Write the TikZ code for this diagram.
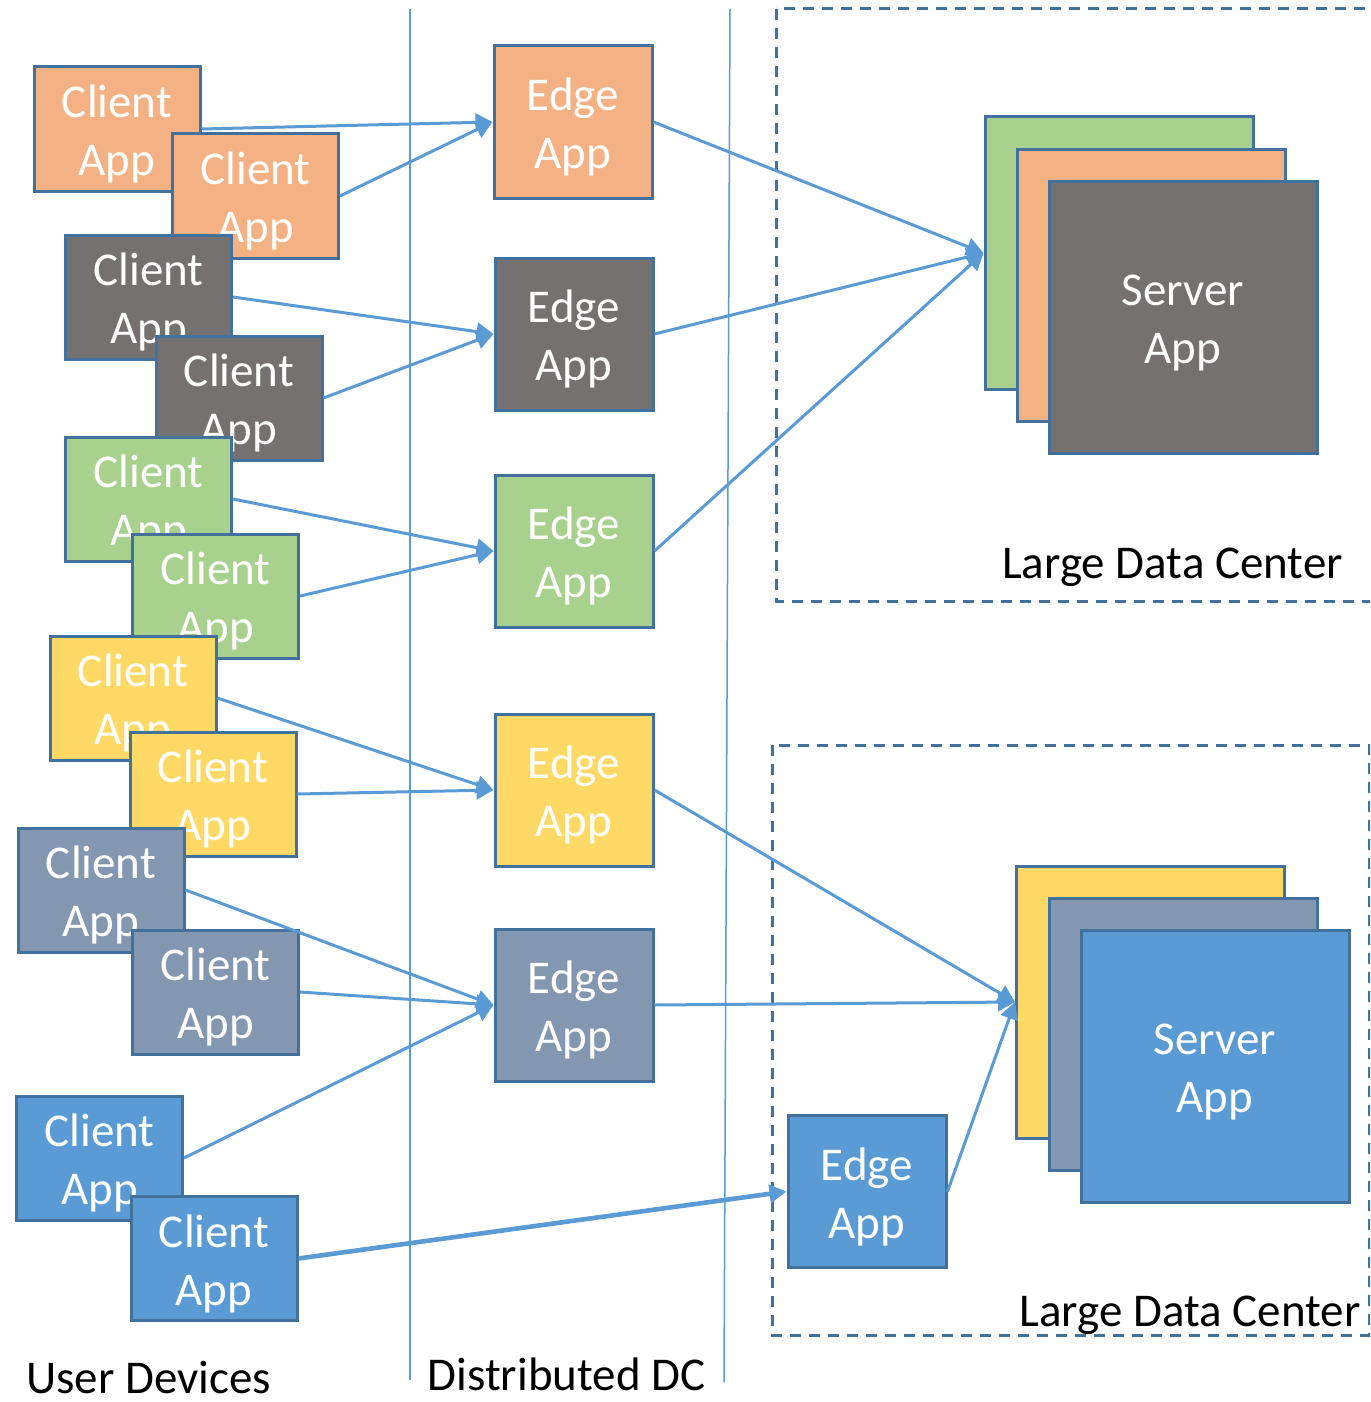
\documentclass[tikz,border=0pt]{standalone}
\usepackage{fontspec}
\setmainfont{Carlito}
\usetikzlibrary{arrows.meta}
\definecolor{corange}{HTML}{F4B183}
\definecolor{cdark}{HTML}{767171}
\definecolor{cgreen}{HTML}{A9D18E}
\definecolor{cyellow}{HTML}{FFD966}
\definecolor{cslate}{HTML}{8497B0}
\definecolor{cblue}{HTML}{5B9BD5}
\definecolor{cborder}{HTML}{41719C}
\definecolor{clink}{HTML}{5B9BD5}
\newcommand{\twolines}[2]{\begin{tabular}{@{}c@{}}#1\\#2\end{tabular}}
\tikzset{
  appbox/.style={draw=cborder, line width=1.5pt, text=white,
    font=\fontsize{23.5pt}{29pt}\selectfont, text height=21pt, text depth=2.3pt, inner sep=0pt},
  client/.style={appbox, minimum width=83pt, minimum height=62pt},
  edgebox/.style={appbox, minimum width=79pt, minimum height=76pt},
  server/.style={appbox, minimum width=134pt, minimum height=136pt},
  link/.style={draw=clink, line width=1.5pt, -{Triangle[length=8.5pt,width=9pt]}},
  thicklink/.style={link, line width=2.3pt},
  divider/.style={draw=clink, line width=0.75pt},
  dcbox/.style={draw=cborder, line width=1.5pt, dash pattern=on 5.5pt off 4pt},
  caption/.style={font=\fontsize{23.5pt}{29pt}\selectfont, text=black, anchor=base, inner sep=0pt}
}
\begin{document}
\begin{tikzpicture}[x=0.5pt, y=-0.5pt]
\clip (0,0) rectangle (1370,1402);
\fill[white] (0,0) rectangle (1370,1402);

% dividers
\coordinate (d1t) at (410,9);
\coordinate (d1b) at (410,1380);
\coordinate (d2t) at (730,9);
\coordinate (d2b) at (724,1382);
\draw[divider] (d1t) -- (d1b);
\draw[divider] (d2t) -- (d2b);

% data center frames
\draw[dcbox] (776,9) rectangle (1400,601);
\draw[dcbox] (772,745) rectangle (1369,1335);

% client apps
\node[client, fill=corange] (c1) at (117,129) {\twolines{Client}{App}};
\node[client, fill=corange] (c2) at (255.5,196) {\twolines{Client}{App}};
\node[client, fill=cdark] (c3) at (148.5,297) {\twolines{Client}{App}};
\node[client, fill=cdark] (c4) at (239,398) {\twolines{Client}{App}};
\node[client, fill=cgreen] (c5) at (148.5,499) {\twolines{Client}{App}};
\node[client, fill=cgreen] (c6) at (215.5,596) {\twolines{Client}{App}};
\node[client, fill=cyellow] (c7) at (133,698) {\twolines{Client}{App}};
\node[client, fill=cyellow] (c8) at (213,794) {\twolines{Client}{App}};
\node[client, fill=cslate] (c9) at (101,890) {\twolines{Client}{App}};
\node[client, fill=cslate] (c10) at (215.5,992) {\twolines{Client}{App}};
\node[client, fill=cblue] (c11) at (99.5,1158) {\twolines{Client}{App}};
\node[client, fill=cblue] (c12) at (214,1258.5) {\twolines{Client}{App}};

% edge apps
\node[edgebox, fill=corange] (e1) at (573,122) {\twolines{Edge}{App}};
\node[edgebox, fill=cdark] (e2) at (574,334) {\twolines{Edge}{App}};
\node[edgebox, fill=cgreen] (e3) at (574,551) {\twolines{Edge}{App}};
\node[edgebox, fill=cyellow] (e4) at (574,790) {\twolines{Edge}{App}};
\node[edgebox, fill=cslate] (e5) at (574,1005) {\twolines{Edge}{App}};
\node[edgebox, fill=cblue] (e6) at (867,1191.5) {\twolines{Edge}{App}};

% server stacks
\node[server, fill=cgreen] (s1) at (1119,253) {};
\node[server, fill=corange] (s2) at (1151,285) {};
\node[server, fill=cdark] (s3) at (1183,317) {\twolines{Server}{App}};
\node[server, fill=cyellow] (s4) at (1150.5,1002) {};
\node[server, fill=cslate] (s5) at (1183,1034) {};
\node[server, fill=cblue] (s6) at (1215,1066) {\twolines{Server}{App}};

% links client -> edge
\draw[link] (c1.east) -- (e1.west);
\draw[link] (c2.east) -- (e1.west);
\draw[link] (c3.east) -- (e2.west);
\draw[link] (c4.east) -- (e2.west);
\draw[link] (c5.east) -- (e3.west);
\draw[link] (c6.east) -- (e3.west);
\draw[link] (c7.east) -- (e4.west);
\draw[link] (c8.east) -- (e4.west);
\draw[link] (c9.east) -- (e5.west);
\draw[link] (c10.east) -- (e5.west);
\draw[link] (c11.east) -- (e5.west);
\draw[thicklink] (c12.east) -- (e6.west);

% links edge -> server
\draw[link] (e1.east) -- (s1.west);
\draw[link] (e2.east) -- (s1.west);
\draw[link] (e3.east) -- (s1.west);
\draw[link] (e4.east) -- (s4.west);
\draw[link] (e5.east) -- (s4.west);
\draw[link] (e6.east) -- (s4.west);

% captions
\node[caption] (ud) at (148.5,1393) {User Devices};
\node[caption] (dd) at (566.5,1390) {Distributed DC};
\node[caption] (ldc1) at (1172.5,578) {Large Data Center};
\node[caption] (ldc2) at (1190,1326) {Large Data Center};
\end{tikzpicture}
\end{document}
